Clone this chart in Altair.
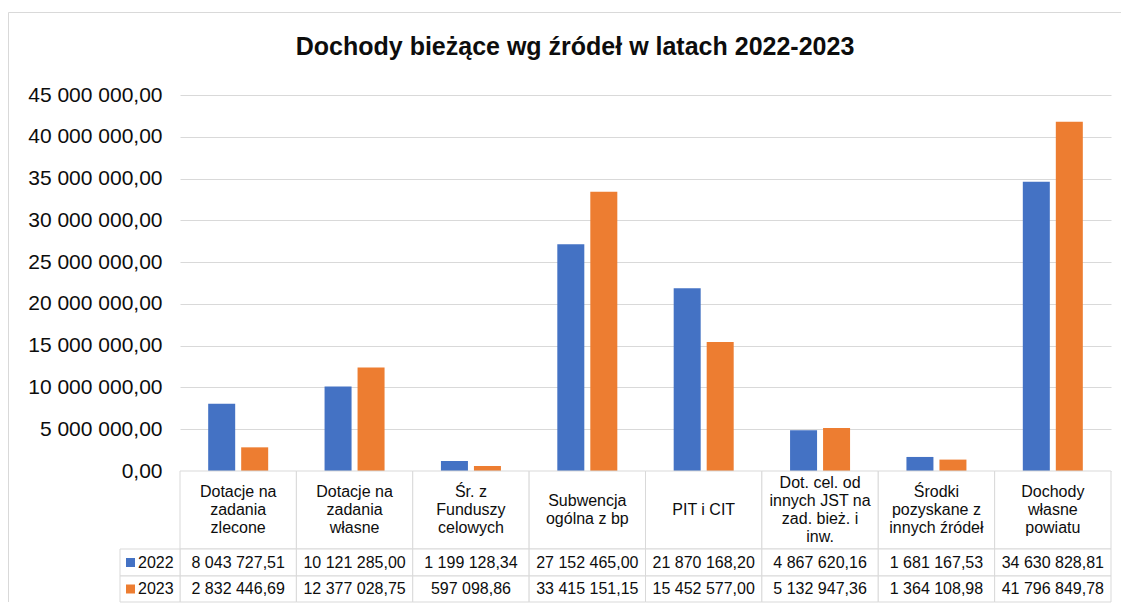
import altair as alt
import pandas as pd

TITLE = "Dochody bieżące wg źródeł w latach 2022-2023"
CATEGORIES = [
    "Dotacje na zadania zlecone",
    "Dotacje na zadania własne",
    "Śr. z Funduszy celowych",
    "Subwencja ogólna z bp",
    "PIT i CIT",
    "Dot. cel. od innych JST na zad. bież. i inw.",
    "Środki pozyskane z innych źródeł",
    "Dochody własne powiatu",
]
# how each category label wraps inside its table cell
LABEL_LINES = [
    ["Dotacje na", "zadania", "zlecone"],
    ["Dotacje na", "zadania", "własne"],
    ["Śr. z", "Funduszy", "celowych"],
    ["Subwencja", "ogólna z bp"],
    ["PIT i CIT"],
    ["Dot. cel. od", "innych JST na", "zad. bież. i", "inw."],
    ["Środki", "pozyskane z", "innych źródeł"],
    ["Dochody", "własne", "powiatu"],
]
YEARS = ["2022", "2023"]
V2022 = [8043727.51, 10121285.00, 1199128.34, 27152465.00, 21870168.20, 4867620.16, 1681167.53, 34630828.81]
V2023 = [2832446.69, 12377028.75, 597098.86, 33415151.15, 15452577.00, 5132947.36, 1364108.98, 41796849.78]
COLORS = ["#4472C4", "#ED7D31"]
Y_TICKS = [0, 5e6, 10e6, 15e6, 20e6, 25e6, 30e6, 35e6, 40e6, 45e6]

# table row geometry (pixels inside table panel)
ROW_NAMES = ["hdr", "2022", "2023"]
ROW_TOP = [0, 78, 105]
ROW_BOTTOM = [78, 105, 131]
LINE_H = 18

FONT = "Liberation Sans"
GRID = "#D9D9D9"
TXT = "#0d0d0d"

W, H = 931, 376
TH = 131

rows = []
for y, vals in zip(YEARS, [V2022, V2023]):
    for c, v in zip(CATEGORIES, vals):
        rows.append({"cat": c, "year": y, "value": v})
df = pd.DataFrame(rows)

row_geo = pd.DataFrame({"row": ROW_NAMES, "top": ROW_TOP, "bottom": ROW_BOTTOM})
row_geo["mid"] = (row_geo["top"] + row_geo["bottom"]) / 2

color = alt.Color("year:N", scale=alt.Scale(domain=YEARS, range=COLORS), legend=None)

# ---------- top: bars ----------
bars = alt.Chart(df).mark_bar().encode(
    x=alt.X("cat:N", sort=CATEGORIES, axis=None,
            scale=alt.Scale(paddingInner=0.4844, paddingOuter=0.2422)),
    xOffset=alt.XOffset("year:N", sort=YEARS, scale=alt.Scale(paddingInner=0.1818, paddingOuter=0)),
    y=alt.Y("value:Q", title=None,
            scale=alt.Scale(domain=[0, 45e6], nice=False),
            axis=alt.Axis(values=Y_TICKS, format=",.2f", grid=True, gridColor=GRID, gridWidth=1,
                          domain=False, ticks=False, tickSize=0, labelPadding=18,
                          labelFontSize=21, labelFont=FONT, labelColor=TXT)),
    color=color,
)

one = pd.DataFrame({"a": [0]})
title_mark = alt.Chart(one).mark_text(
    fontSize=25, fontWeight="bold", font=FONT, color=TXT, align="center", baseline="middle"
).encode(x=alt.value(395), y=alt.value(-48), text=alt.value(TITLE))

border_top = alt.Chart(one).mark_rule(color=GRID, strokeWidth=1).encode(
    x=alt.value(-171.5), x2=alt.value(941), y=alt.value(-82.5))
border_left = alt.Chart(one).mark_rule(color=GRID, strokeWidth=1).encode(
    x=alt.value(-171.5), y=alt.value(-82.5), y2=alt.value(H + TH))

top = alt.layer(border_top, border_left, bars, title_mark).properties(width=W, height=H)

# ---------- bottom: data table ----------
cells_df = pd.DataFrame([
    {"cat": c, "row": r, "top": t, "bottom": b}
    for c in CATEGORIES for r, t, b in zip(ROW_NAMES, ROW_TOP, ROW_BOTTOM)
])
yscale = alt.Scale(domain=[0, TH], reverse=True, nice=False, zero=False)
xscale = alt.Scale(paddingInner=0, paddingOuter=0)

cells = alt.Chart(cells_df).mark_rect(fill="white", stroke=GRID, strokeWidth=1).encode(
    x=alt.X("cat:N", sort=CATEGORIES, axis=None, scale=xscale),
    y=alt.Y("top:Q", axis=None, scale=yscale),
    y2="bottom:Q",
)

leg_rows = row_geo[row_geo["row"].isin(YEARS)].rename(columns={"row": "year"})
leg_cells = alt.Chart(leg_rows).mark_rect(fill="white", stroke=GRID, strokeWidth=1).encode(
    x=alt.value(-60), x2=alt.value(0),
    y=alt.Y("top:Q", axis=None, scale=yscale), y2="bottom:Q",
)
leg_sq = alt.Chart(leg_rows).mark_square(size=81, opacity=1, strokeWidth=0).encode(
    x=alt.value(-49.5), y=alt.Y("mid:Q", axis=None, scale=yscale), color=color,
)
leg_txt = alt.Chart(leg_rows).mark_text(align="left", baseline="middle", fontSize=16, font=FONT, color=TXT).encode(
    x=alt.value(-42), y=alt.Y("mid:Q", axis=None, scale=yscale), text="year:N",
)

hdr_mid = row_geo.loc[0, "mid"]
hdr_rows = []
for c, lines in zip(CATEGORIES, LABEL_LINES):
    n = len(lines)
    for i, ln in enumerate(lines):
        hdr_rows.append({"cat": c, "line": ln, "pos": hdr_mid + (i - (n - 1) / 2) * LINE_H})
hdr_df = pd.DataFrame(hdr_rows)
hdr_txt = alt.Chart(hdr_df).mark_text(
    align="center", baseline="middle", fontSize=16, font=FONT, color=TXT
).encode(
    x=alt.X("cat:N", sort=CATEGORIES, axis=None, scale=xscale),
    y=alt.Y("pos:Q", axis=None, scale=yscale),
    text="line:N",
)

val_df = df.merge(row_geo.rename(columns={"row": "year"})[["year", "mid"]], on="year")
val_txt = alt.Chart(val_df).mark_text(
    align="center", baseline="middle", fontSize=16, font=FONT, color=TXT
).encode(
    x=alt.X("cat:N", sort=CATEGORIES, axis=None, scale=xscale),
    y=alt.Y("mid:Q", axis=None, scale=yscale),
    text=alt.Text("value:Q", format=",.2f"),
)

table = alt.layer(cells, leg_cells, leg_sq, leg_txt, hdr_txt, val_txt).properties(width=W, height=TH)

chart = alt.vconcat(top, table, spacing=0, bounds="flush").resolve_scale(
    x="independent", y="independent"
).properties(
    padding={"left": 0, "top": 4, "right": 0, "bottom": 0}
).configure(
    locale={"number": {"decimal": ",", "thousands": "\u00a0", "grouping": [3], "currency": ["", ""]}},
    view={"strokeWidth": 0},
)

chart.save("out.html", embed_options={"renderer": "svg", "actions": False})
